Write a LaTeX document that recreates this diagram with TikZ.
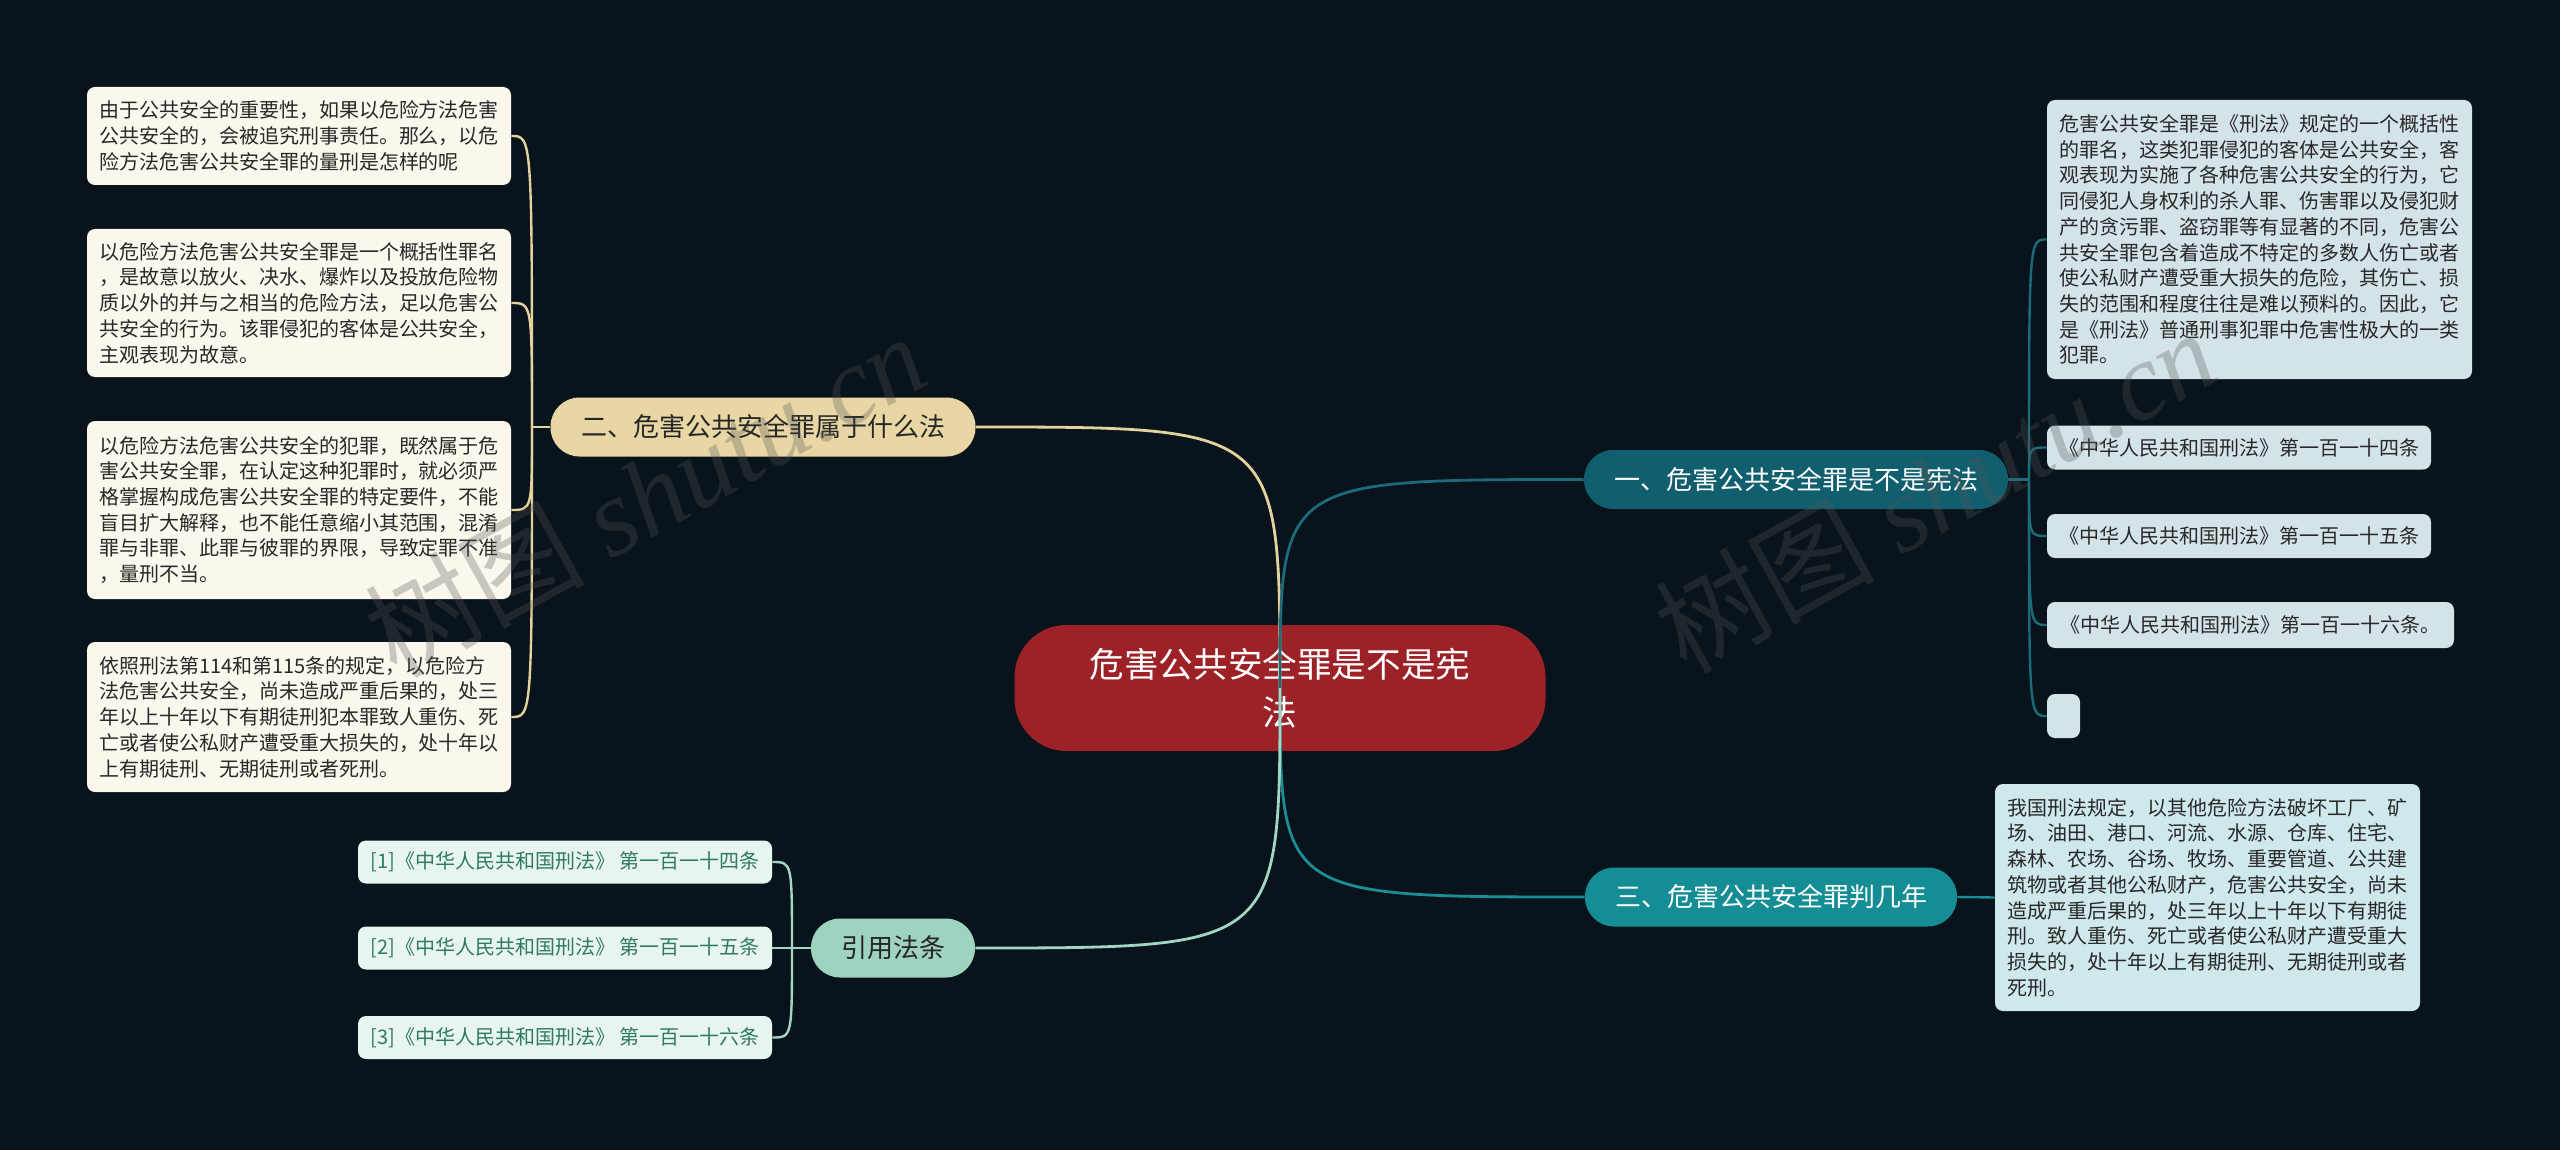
\documentclass[tikz,border=0pt]{standalone}
\usepackage{fontspec}
\setmainfont{Noto Sans CJK SC}
\newfontfamily\wmlatin{Liberation Serif}
\usepackage{tikz}
\usetikzlibrary{positioning,calc}
\definecolor{mmbg}{RGB}{8,19,27}
\definecolor{mmroot}{RGB}{157,34,40}
\definecolor{mmone}{RGB}{16,94,110}
\definecolor{mmtwo}{RGB}{232,215,164}
\definecolor{mmthree}{RGB}{20,142,148}
\definecolor{mmfour}{RGB}{158,211,191}
\definecolor{mmlone}{RGB}{28,107,122}
\definecolor{mmltwo}{RGB}{227,210,157}
\definecolor{mmlthree}{RGB}{27,141,148}
\definecolor{mmlfour}{RGB}{163,214,194}
\definecolor{mmcream}{RGB}{251,247,236}
\definecolor{mmmint}{RGB}{232,244,239}
\definecolor{mmblue}{RGB}{212,227,232}
\definecolor{mmcyan}{RGB}{207,232,235}
\definecolor{mmink}{RGB}{40,40,40}
\definecolor{mmrefink}{RGB}{46,122,98}
\definecolor{mmwm}{RGB}{85,85,85}
\tikzset{
  topic/.style={
    rounded corners=14.5pt, inner sep=2pt, align=center,
    minimum height=29.5pt, font=\fontsize{13}{16}\selectfont
  },
  rootbox/.style={
    fill=mmroot, text=white, rounded corners=26pt, align=center,
    minimum width=265.5pt, minimum height=63pt,
    font=\fontsize{17.3}{23.7}\selectfont
  },
  one/.style={topic, fill=mmone, text=white},
  two/.style={topic, fill=mmtwo, text=black!85},
  three/.style={topic, fill=mmthree, text=white},
  four/.style={topic, fill=mmfour, text=black!85},
  leaf/.style={
    rounded corners=4pt, inner sep=3pt, align=left,
    text=mmink, font=\fontsize{10}{12.85}\selectfont
  },
  cream/.style={leaf, fill=mmcream, minimum width=212pt},
  refl/.style={leaf, fill=mmmint, text=mmrefink, minimum width=207pt, minimum height=21.5pt},
  blue/.style={leaf, fill=mmblue},
  cyan/.style={leaf, fill=mmcyan, minimum width=212.5pt},
  lkone/.style={draw=mmlone, line width=1.4pt},
  lktwo/.style={draw=mmltwo, line width=1.4pt},
  lkthree/.style={draw=mmlthree, line width=1.4pt},
  lkfour/.style={draw=mmlfour, line width=1.4pt},
  wm/.style={text=mmwm, text opacity=0.3, font=\fontsize{55}{60}\selectfont, inner sep=0pt}
}
\begin{document}
\begin{tikzpicture}[x=0.5pt,y=-0.5pt]
  \fill[mmbg] (0,0) rectangle (2560,1150);
  \useasboundingbox (0,0) rectangle (2560,1150);
  \node[rootbox] (root) at (1280,688) {危害公共安全罪是不是宪\\法};
  \node[one, minimum width=212pt] (b1) at (1796,479.5) {一、危害公共安全罪是不是宪法};
  \node[two, minimum width=212.5pt] (b2) at (763,427) {二、危害公共安全罪属于什么法};
  \node[three, minimum width=186pt] (b3) at (1771,897) {三、危害公共安全罪判几年};
  \node[four, minimum width=82pt] (b4) at (893,948) {引用法条};
  \node[cream, minimum height=49pt] (l1) at (299,136) {由于公共安全的重要性，如果以危险方法危害\\公共安全的，会被追究刑事责任。那么，以危\\险方法危害公共安全罪的量刑是怎样的呢};
  \node[cream, minimum height=74pt] (l2) at (299,303) {以危险方法危害公共安全罪是一个概括性罪名\\，是故意以放火、决水、爆炸以及投放危险物\\质以外的并与之相当的危险方法，足以危害公\\共安全的行为。该罪侵犯的客体是公共安全，\\主观表现为故意。};
  \node[cream, minimum height=89pt] (l3) at (299,510) {以危险方法危害公共安全的犯罪，既然属于危\\害公共安全罪，在认定这种犯罪时，就必须严\\格掌握构成危害公共安全罪的特定要件，不能\\盲目扩大解释，也不能任意缩小其范围，混淆\\罪与非罪、此罪与彼罪的界限，导致定罪不准\\，量刑不当。};
  \node[cream, minimum height=75pt] (l4) at (299,717) {依照刑法第114和第115条的规定，以危险方\\法危害公共安全，尚未造成严重后果的，处三\\年以上十年以下有期徒刑犯本罪致人重伤、死\\亡或者使公私财产遭受重大损失的，处十年以\\上有期徒刑、无期徒刑或者死刑。};
  \node[refl] (r1) at (565,862) {[1]《中华人民共和国刑法》 第一百一十四条};
  \node[refl] (r2) at (565,948) {[2]《中华人民共和国刑法》 第一百一十五条};
  \node[refl] (r3) at (565,1037.5) {[3]《中华人民共和国刑法》 第一百一十六条};
  \node[blue, minimum width=212.5pt, minimum height=139.5pt] (t1) at (2259.5,239.5) {危害公共安全罪是《刑法》规定的一个概括性\\的罪名，这类犯罪侵犯的客体是公共安全，客\\观表现为实施了各种危害公共安全的行为，它\\同侵犯人身权利的杀人罪、伤害罪以及侵犯财\\产的贪污罪、盗窃罪等有显著的不同，危害公\\共安全罪包含着造成不特定的多数人伤亡或者\\使公私财产遭受重大损失的危险，其伤亡、损\\失的范围和程度往往是难以预料的。因此，它\\是《刑法》普通刑事犯罪中危害性极大的一类\\犯罪。};
  \node[blue, minimum width=192pt, minimum height=22pt] (t2) at (2239,447.5) {《中华人民共和国刑法》第一百一十四条};
  \node[blue, minimum width=192pt, minimum height=22pt] (t3) at (2239,536) {《中华人民共和国刑法》第一百一十五条};
  \node[blue, minimum width=203.5pt, minimum height=23pt] (t4) at (2250.5,625) {《中华人民共和国刑法》第一百一十六条。};
  \node[blue, minimum width=16.5pt, minimum height=22pt] (t5) at (2063.5,716) {};
  \node[cyan, minimum height=113.5pt] (c1) at (2207.5,897.5) {我国刑法规定，以其他危险方法破坏工厂、矿\\场、油田、港口、河流、水源、仓库、住宅、\\森林、农场、谷场、牧场、重要管道、公共建\\筑物或者其他公私财产，危害公共安全，尚未\\造成严重后果的，处三年以上十年以下有期徒\\刑。致人重伤、死亡或者使公私财产遭受重大\\损失的，处十年以上有期徒刑、无期徒刑或者\\死刑。};
  \coordinate (s1) at (2029,479.5);
  \coordinate (s2) at (532,427);
  \coordinate (s4) at (792,948);
  \draw[lktwo] (b2.east) .. controls (b2.east -| root.center) .. (root.center);
  \draw[lkone] (b1.west) .. controls (b1.west -| root.center) .. (root.center);
  \draw[lkthree] (b3.west) .. controls (b3.west -| root.center) .. (root.center);
  \draw[lkfour] (b4.east) .. controls (b4.east -| root.center) .. (root.center);
  \draw[lkone, line width=1.2pt] (b1.east) -- (s1);
  \foreach \n in {t1,t2,t3,t4,t5}
    \draw[lkone, line width=1.2pt] (s1) .. controls (s1 |- \n.west) .. (\n.west);
  \draw[lktwo, line width=1.2pt] (b2.west) -- (s2);
  \foreach \n in {l1,l2,l3,l4}
    \draw[lktwo, line width=1.2pt] (s2) .. controls (s2 |- \n.east) .. (\n.east);
  \draw[lkthree, line width=1.2pt] (b3.east) -- (c1.west);
  \draw[lkfour, line width=1.2pt] (b4.west) -- (s4);
  \foreach \n in {r1,r2,r3}
    \draw[lkfour, line width=1.2pt] (s4) .. controls (s4 |- \n.east) .. (\n.east);
  \node[wm, rotate=29] (wm1) at (645,494) {树图 {\wmlatin\itshape shutu.cn}};
  \node[wm, rotate=29] (wm2) at (1935,490) {树图 {\wmlatin\itshape shutu.cn}};
\end{tikzpicture}
\end{document}
